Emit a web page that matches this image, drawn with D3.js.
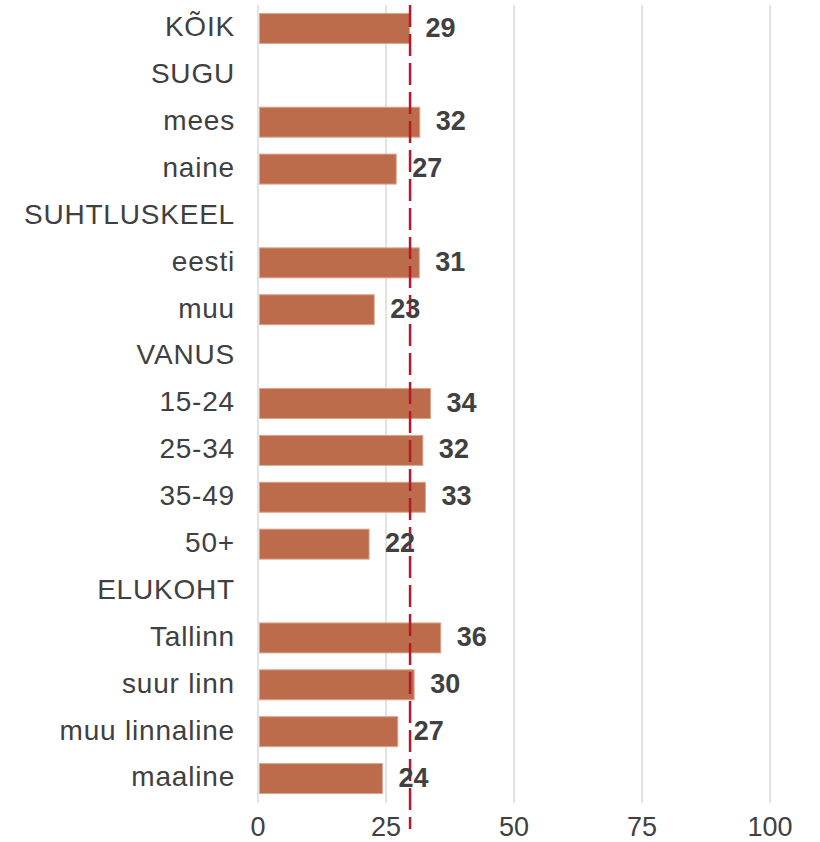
<!DOCTYPE html>
<html lang="et">
<head>
<meta charset="UTF-8" />
<title>Tulpdiagramm</title>
<style>
  body { margin: 0; background: #ffffff; }
  text { font-family: 'Liberation Sans', Arial, Helvetica, sans-serif; fill: #404040; }
  .grid line { stroke: #e3e3e3; stroke-width: 2; }
  .bar { fill: #bc6c4b; stroke: #dca690; stroke-width: 1; }
  .avg { stroke: #b5172b; stroke-width: 2.5; stroke-dasharray: 22 7; }
</style>
<script src="https://d3js.org/d3.v7.min.js"></script>
</head>
<body>
<div id="chart"></div>
<script>
  // Kategooriad (päised ilma väärtuseta)
  const categories = ['KÕIK', 'SUGU', 'mees', 'naine', 'SUHTLUSKEEL', 'eesti', 'muu',
                      'VANUS', '15-24', '25-34', '35-49', '50+', 'ELUKOHT',
                      'Tallinn', 'suur linn', 'muu linnaline', 'maaline'];
  const values = [29.6, null, 31.6, 27.0, null, 31.5, 22.7,
                  null, 33.7, 32.2, 32.7, 21.7, null,
                  35.7, 30.5, 27.3, 24.3];
  const labels = ['29', '', '32', '27', '', '31', '23',
                  '', '34', '32', '33', '22', '',
                  '36', '30', '27', '24'];
  const average = 29.7;
  const ticks = [0, 25, 50, 75, 100];

  const width = 820, height = 842;

  const svg = d3.select('#chart').append('svg')
    .attr('width', width)
    .attr('height', height);

  const x = d3.scaleLinear().domain([0, 100]).range([258, 770]);
  const y = d3.scaleBand().domain(categories).range([5, 802]).paddingInner(0.36).paddingOuter(0.18);

  // ruudustik
  svg.append('g').attr('class', 'grid')
    .selectAll('line').data(ticks).enter().append('line')
    .attr('x1', d => x(d)).attr('x2', d => x(d))
    .attr('y1', 5).attr('y2', 803);

  // tulbad
  const rows = categories.map((c, i) => ({ c, v: values[i], l: labels[i] })).filter(d => d.v !== null);

  svg.selectAll('.bar').data(rows).enter().append('rect')
    .attr('class', 'bar')
    .attr('x', x(0) + 1.5)
    .attr('y', d => y(d.c))
    .attr('width', d => x(d.v) - x(0) - 1.5)
    .attr('height', y.bandwidth());

  // keskmine
  svg.append('line').attr('class', 'avg')
    .attr('x1', x(average)).attr('x2', x(average))
    .attr('y1', 5).attr('y2', 829);

  // väärtused
  svg.selectAll('.val').data(rows).enter().append('text')
    .attr('class', 'val')
    .attr('x', d => x(d.v) + 16)
    .attr('y', d => y(d.c) + y.bandwidth() / 2)
    .attr('dy', '0.3em')
    .style('font-size', '27px')
    .style('font-weight', 'bold')
    .text(d => d.l);

  // kategooriate sildid
  svg.selectAll('.cat').data(categories).enter().append('text')
    .attr('class', 'cat')
    .attr('x', 235)
    .attr('y', d => y(d) + y.bandwidth() / 2)
    .attr('dy', '0.28em')
    .attr('text-anchor', 'end')
    .style('font-size', '28px')
    .style('letter-spacing', '0.8px')
    .text(d => d);

  // x-telje sildid
  svg.selectAll('.tick').data(ticks).enter().append('text')
    .attr('class', 'tick')
    .attr('x', d => x(d))
    .attr('y', 836)
    .attr('text-anchor', 'middle')
    .style('font-size', '27px')
    .text(d => d);
</script>
</body>
</html>
